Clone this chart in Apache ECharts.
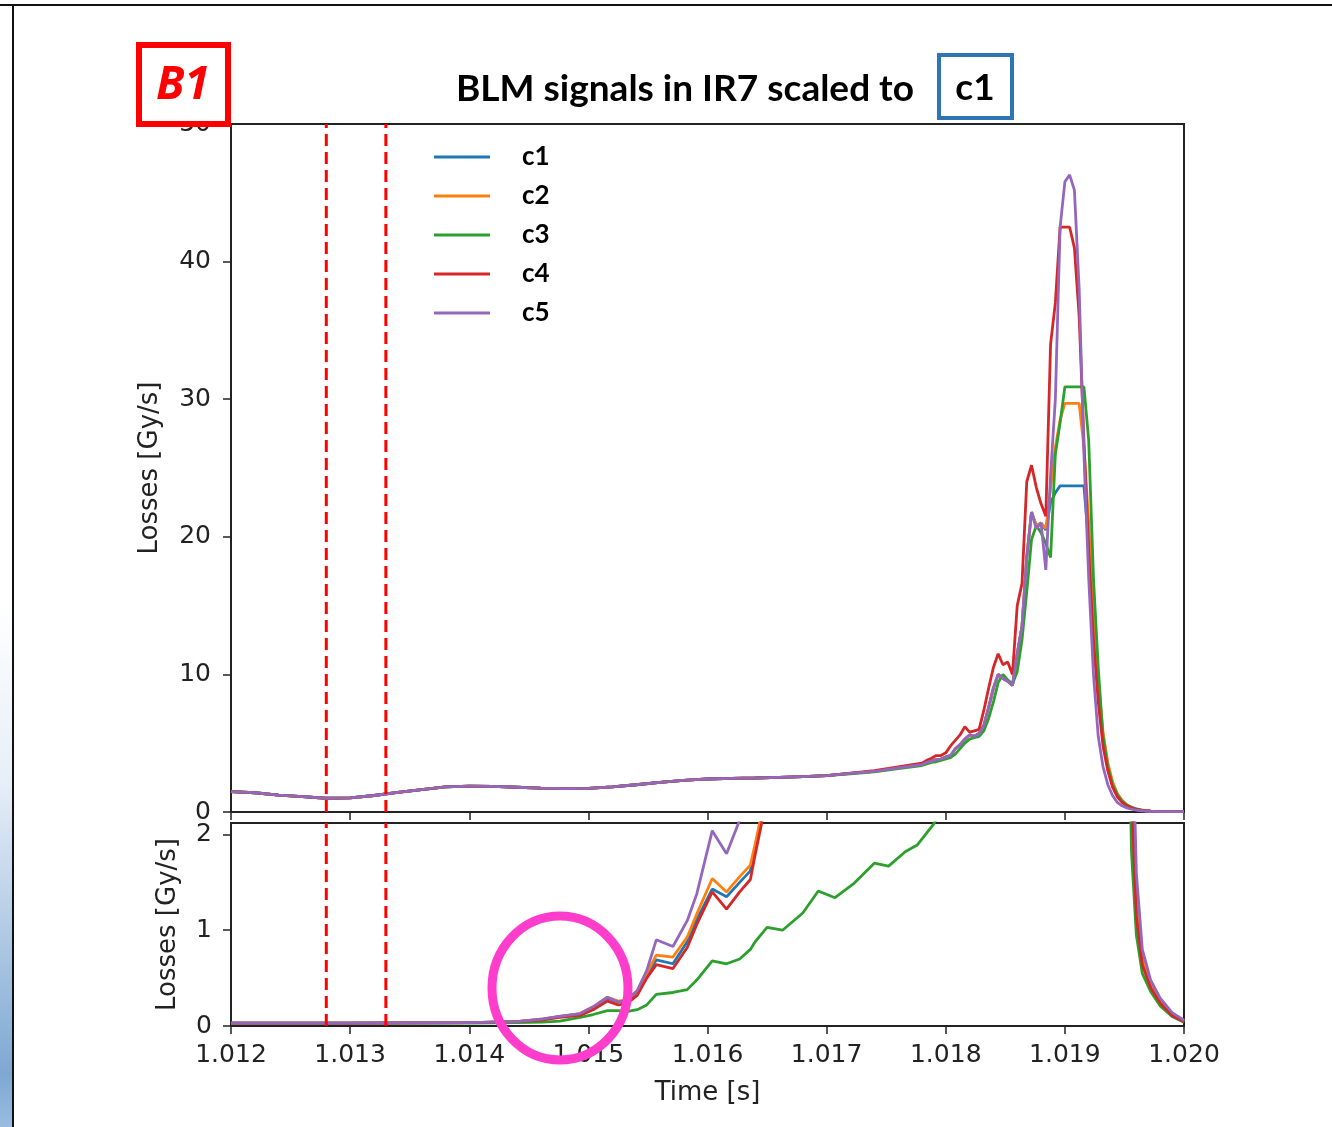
<!DOCTYPE html>
<html>
<head>
<meta charset="utf-8">
<script src="https://cdn.jsdelivr.net/npm/echarts@6/dist/echarts.min.js"></script>
<style>
html,body{margin:0;padding:0;background:#fff;}
#chart{width:1332px;height:1127px;}
</style>
</head>
<body>
<div id="chart"></div>
<script>
// ---------------- DATA ----------------
const titleText = 'BLM signals in IR7 scaled to';
const seriesNames = ['c1', 'c2', 'c3', 'c4', 'c5'];
const seriesColors = ['#1f77b4', '#ff7f0e', '#2ca02c', '#d62728', '#9467bd'];
const xTicks = [1.012, 1.013, 1.014, 1.015, 1.016, 1.017, 1.018, 1.019, 1.020];
const yTicksTop = [0, 10, 20, 30, 40, 50];
const yTicksBottom = [0, 1, 2];
const eventTimes = [1.0128, 1.0133];

// top panel time grid [s]
const tTop = [
  1.0120, 1.0122, 1.0124, 1.0126, 1.0128, 1.0130, 1.0132, 1.0134, 1.0136, 1.0138,
  1.0140, 1.0142, 1.0144, 1.0146, 1.0148, 1.0150, 1.0152, 1.0154, 1.0156, 1.0158,
  1.0160, 1.0162, 1.0164, 1.0166, 1.0168, 1.0170, 1.0172, 1.0174, 1.0176, 1.0178,
  1.01784, 1.01788, 1.01792, 1.01796, 1.01800, 1.01804, 1.01808, 1.01812, 1.01816, 1.01820,
  1.01824, 1.01828, 1.01832, 1.01836, 1.01840, 1.01844, 1.01848, 1.01852, 1.01856, 1.01860,
  1.01864, 1.01868, 1.01872, 1.01876, 1.01880, 1.01884, 1.01888, 1.01892, 1.01896, 1.01900,
  1.01904, 1.01908, 1.01912, 1.01916, 1.01920, 1.01924, 1.01928, 1.01932, 1.01936, 1.01940,
  1.01944, 1.01948, 1.01952, 1.01956, 1.01960, 1.01964, 1.01968, 1.01972, 1.01976, 1.01980,
  1.0199, 1.0200
];
const c1Top = [
  1.48, 1.40, 1.22, 1.12, 1.00, 1.03, 1.20, 1.42, 1.62, 1.82,
  1.88, 1.86, 1.80, 1.74, 1.70, 1.72, 1.82, 1.98, 2.15, 2.30,
  2.40, 2.44, 2.47, 2.52, 2.57, 2.64, 2.80, 2.95, 3.20, 3.45,
  3.6, 3.7, 3.8, 3.85, 4.0, 4.1, 4.6, 4.9, 5.3, 5.6,
  5.5, 5.7, 6.3, 7.6, 9.0, 10.0, 9.7, 9.5, 9.2, 11.5,
  13.5, 18.5, 21.8, 20.8, 21.0, 20.5, 22.5, 23.2, 23.7, 23.7,
  23.7, 23.7, 23.7, 23.7, 19.5, 13.5, 9.0, 5.5, 3.4, 2.1,
  1.3, 0.8, 0.5, 0.32, 0.2, 0.13, 0.09, 0.06, 0.05, 0.04,
  0.03, 0.02
];
const c2Top = [
  1.48, 1.40, 1.22, 1.12, 1.00, 1.03, 1.20, 1.42, 1.62, 1.82,
  1.88, 1.86, 1.80, 1.74, 1.70, 1.72, 1.82, 1.98, 2.15, 2.30,
  2.40, 2.44, 2.47, 2.52, 2.57, 2.64, 2.80, 2.95, 3.20, 3.45,
  3.6, 3.7, 3.8, 3.85, 4.0, 4.1, 4.6, 4.9, 5.3, 5.6,
  5.5, 5.7, 6.3, 7.6, 9.0, 10.0, 9.7, 9.5, 9.2, 11.5,
  13.5, 18.5, 21.8, 20.8, 21.0, 20.6, 23.5, 26.5, 28.5, 29.7,
  29.7, 29.7, 29.7, 26.5, 21.0, 14.5, 9.5, 5.8, 3.6, 2.2,
  1.35, 0.85, 0.52, 0.33, 0.21, 0.14, 0.09, 0.06, 0.05, 0.04,
  0.03, 0.02
];
const c3Top = [
  1.48, 1.40, 1.22, 1.12, 1.00, 1.03, 1.20, 1.42, 1.62, 1.82,
  1.88, 1.86, 1.80, 1.74, 1.70, 1.72, 1.82, 1.98, 2.15, 2.30,
  2.40, 2.44, 2.47, 2.52, 2.57, 2.64, 2.78, 2.92, 3.15, 3.38,
  3.5, 3.6, 3.65, 3.75, 3.85, 3.95, 4.2, 4.6, 5.0, 5.3,
  5.4, 5.5, 5.9, 6.8, 8.0, 9.4, 10.0, 9.6, 9.3, 10.2,
  12.5, 16.0, 19.8, 20.8, 20.3, 19.5, 18.5, 26.0, 28.3, 30.9,
  30.9, 30.9, 30.9, 30.9, 27.0, 17.0, 10.5, 5.5, 3.3, 2.0,
  1.25, 0.8, 0.5, 0.34, 0.22, 0.15, 0.1, 0.07, 0.05, 0.04,
  0.03, 0.02
];
const c4Top = [
  1.48, 1.40, 1.22, 1.12, 1.00, 1.03, 1.20, 1.42, 1.62, 1.82,
  1.88, 1.86, 1.80, 1.74, 1.70, 1.72, 1.82, 1.98, 2.15, 2.30,
  2.40, 2.44, 2.47, 2.52, 2.57, 2.64, 2.82, 3.00, 3.28, 3.55,
  3.75, 3.9, 4.1, 4.1, 4.3, 4.8, 5.2, 5.6, 6.2, 5.8,
  5.9, 6.0, 7.4, 9.0, 10.5, 11.5, 10.7, 10.9, 10.0, 15.0,
  16.6, 24.0, 25.2, 23.6, 22.4, 21.5, 34.0, 37.0, 42.5, 42.5,
  42.5, 41.0, 36.0, 27.0, 19.0, 12.5, 8.0, 4.8, 3.0, 1.8,
  1.1, 0.7, 0.45, 0.3, 0.19, 0.13, 0.09, 0.06, 0.05, 0.04,
  0.03, 0.02
];
const c5Top = [
  1.48, 1.40, 1.22, 1.12, 1.00, 1.03, 1.20, 1.42, 1.62, 1.82,
  1.88, 1.86, 1.80, 1.74, 1.70, 1.72, 1.82, 1.98, 2.15, 2.30,
  2.40, 2.44, 2.47, 2.52, 2.57, 2.64, 2.80, 2.95, 3.20, 3.45,
  3.6, 3.7, 3.8, 3.85, 4.0, 4.1, 4.6, 4.9, 5.3, 5.6,
  5.5, 5.7, 6.3, 7.6, 9.0, 10.0, 9.7, 9.5, 9.2, 11.5,
  13.5, 18.5, 21.8, 20.6, 21.0, 17.6, 24.5, 30.0, 42.5, 45.8,
  46.3, 45.2, 38.0, 26.0, 17.0, 10.0, 5.5, 3.3, 2.0, 1.2,
  0.7, 0.45, 0.3, 0.2, 0.13, 0.09, 0.06, 0.05, 0.04, 0.03,
  0.02, 0.02
];

// bottom panel time grid [s]
const tBottom = [
  1.0120, 1.0130, 1.0140, 1.0144, 1.01462, 1.01476, 1.01493, 1.01504, 1.01516, 1.01525,
  1.01532, 1.01541, 1.01549, 1.01557, 1.01571, 1.01583, 1.01591, 1.01604, 1.01616, 1.01627,
  1.01636, 1.0164, 1.01646, 1.0165, 1.01663, 1.0168, 1.01693, 1.01707, 1.01723, 1.0174,
  1.01752, 1.01766, 1.01776, 1.0179, 1.0181, 1.0185, 1.0190, 1.0194, 1.01952, 1.01956,
  1.0196, 1.01965, 1.01972, 1.0198, 1.0199, 1.0200
];
const c1Bottom = [
  0.03, 0.03, 0.035, 0.045, 0.07, 0.10, 0.12, 0.19, 0.29, 0.25,
  0.26, 0.35, 0.53, 0.69, 0.65, 0.88, 1.11, 1.43, 1.35, 1.50,
  1.62, 1.86, 2.2, 2.4, 2.6, 2.8, 3.0, 3.1, 3.3, 3.6,
  3.8, 4.1, 4.3, 4.6, 5.4, 9.5, 23.7, 14.0, 6.5, 2.8,
  1.3, 0.7, 0.42, 0.25, 0.12, 0.05
];
const c2Bottom = [
  0.03, 0.03, 0.035, 0.045, 0.075, 0.10, 0.13, 0.20, 0.30, 0.26,
  0.27, 0.36, 0.55, 0.74, 0.72, 0.93, 1.17, 1.54, 1.40, 1.56,
  1.68, 1.90, 2.25, 2.45, 2.65, 2.85, 3.05, 3.15, 3.4, 3.7,
  3.9, 4.2, 4.4, 4.7, 5.6, 9.8, 29.7, 15.0, 7.0, 3.0,
  1.35, 0.72, 0.43, 0.25, 0.12, 0.05
];
const c3Bottom = [
  0.03, 0.03, 0.03, 0.035, 0.04, 0.05, 0.09, 0.12, 0.16, 0.16,
  0.15, 0.17, 0.22, 0.33, 0.35, 0.38, 0.48, 0.68, 0.65, 0.70,
  0.80, 0.88, 0.97, 1.03, 1.00, 1.18, 1.41, 1.34, 1.49, 1.70,
  1.67, 1.82, 1.89, 2.11, 2.6, 6.0, 29.0, 18.0, 4.0, 1.8,
  0.95, 0.55, 0.36, 0.21, 0.10, 0.04
];
const c4Bottom = [
  0.03, 0.03, 0.035, 0.045, 0.065, 0.09, 0.11, 0.17, 0.26, 0.22,
  0.23, 0.32, 0.50, 0.64, 0.60, 0.82, 1.06, 1.40, 1.22, 1.40,
  1.53, 1.79, 2.15, 2.35, 2.55, 2.8, 3.0, 3.1, 3.35, 3.7,
  3.95, 4.3, 4.6, 5.0, 6.2, 11.5, 42.5, 16.0, 6.0, 2.4,
  1.15, 0.64, 0.40, 0.24, 0.11, 0.045
];
const c5Bottom = [
  0.03, 0.03, 0.035, 0.045, 0.075, 0.10, 0.13, 0.20, 0.30, 0.25,
  0.27, 0.37, 0.58, 0.90, 0.83, 1.10, 1.38, 2.04, 1.80, 2.15,
  2.6, 2.9, 3.2, 3.4, 3.6, 3.8, 4.0, 4.1, 4.3, 4.6,
  4.8, 5.1, 5.3, 5.6, 6.5, 10.5, 45.0, 10.0, 8.5, 3.6,
  1.6, 0.8, 0.48, 0.29, 0.14, 0.06
];

const topValues = [c1Top, c2Top, c3Top, c4Top, c5Top];
const bottomValues = [c1Bottom, c2Bottom, c3Bottom, c4Bottom, c5Bottom];

// ---------------- CHART ----------------
const chart = echarts.init(document.getElementById('chart'), null, {renderer: 'canvas'});

const tickFont = {fontFamily: 'DejaVu Sans', fontSize: 25, color: '#222'};
const nameFont = {fontFamily: 'DejaVu Sans', fontSize: 26, color: '#222'};
const axisLine = {show: true, lineStyle: {color: '#222', width: 2}};
const axisTick = {show: true, length: 8, lineStyle: {color: '#222', width: 1.5}};

const topMax = 50, bottomMax = 2.12;

const series = [];
seriesNames.forEach((name, k) => {
  series.push({
    name: name, type: 'line', xAxisIndex: 0, yAxisIndex: 0,
    data: tTop.map((t, i) => [t, topValues[k][i]]),
    showSymbol: false, symbol: 'none',
    lineStyle: {width: 2.8, color: seriesColors[k]},
    itemStyle: {color: seriesColors[k]},
    animation: false
  });
});
seriesNames.forEach((name, k) => {
  series.push({
    name: name, type: 'line', xAxisIndex: 1, yAxisIndex: 1,
    data: tBottom.map((t, i) => [t, bottomValues[k][i]]),
    showSymbol: false, symbol: 'none',
    lineStyle: {width: 2.8, color: seriesColors[k]},
    itemStyle: {color: seriesColors[k]},
    animation: false
  });
});
// dashed event lines in both panels
eventTimes.forEach(t => {
  [[0, topMax], [1, bottomMax]].forEach(([g, ymax]) => {
    series.push({
      name: 'event', type: 'line', xAxisIndex: g, yAxisIndex: g,
      data: [[t, 0], [t, ymax]],
      showSymbol: false, symbol: 'none', silent: true, z: 3,
      lineStyle: {width: 3, color: '#ff0000', type: [12, 6]},
      animation: false
    });
  });
});

const option = {
  backgroundColor: '#fff',
  animation: false,
  grid: [
    {left: 231, top: 124, width: 953, height: 688, show: true, borderColor: '#222', borderWidth: 2, backgroundColor: 'transparent'},
    {left: 231, top: 823, width: 953, height: 203, show: true, borderColor: '#222', borderWidth: 2, backgroundColor: 'transparent'}
  ],
  xAxis: [
    {type: 'value', gridIndex: 0, min: 1.012, max: 1.020, interval: 0.001,
     axisLine: axisLine, axisTick: Object.assign({customValues: xTicks}, axisTick),
     axisLabel: {show: false}, splitLine: {show: false}},
    {type: 'value', gridIndex: 1, min: 1.012, max: 1.020, interval: 0.001,
     axisLine: axisLine, axisTick: Object.assign({customValues: xTicks}, axisTick),
     axisLabel: Object.assign({customValues: xTicks, margin: 17, formatter: v => v.toFixed(3)}, tickFont),
     splitLine: {show: false},
     name: 'Time [s]', nameLocation: 'middle', nameGap: 54, nameTextStyle: nameFont}
  ],
  yAxis: [
    {type: 'value', gridIndex: 0, min: 0, max: topMax, interval: 10,
     axisLine: axisLine, axisTick: Object.assign({customValues: yTicksTop}, axisTick),
     axisLabel: Object.assign({customValues: yTicksTop, margin: 20}, tickFont),
     splitLine: {show: false},
     name: 'Losses [Gy/s]', nameLocation: 'middle', nameGap: 68, nameTextStyle: nameFont},
    {type: 'value', gridIndex: 1, min: 0, max: bottomMax,
     axisLine: axisLine, axisTick: Object.assign({customValues: yTicksBottom}, axisTick),
     axisLabel: Object.assign({customValues: yTicksBottom, margin: 19}, tickFont),
     splitLine: {show: false},
     name: 'Losses [Gy/s]', nameLocation: 'middle', nameGap: 50, nameTextStyle: nameFont}
  ],
  legend: {
    data: seriesNames.map(n => ({name: n, icon: 'rect'})),
    orient: 'vertical', left: 434, top: 144, padding: 0,
    itemWidth: 56, itemHeight: 3, itemGap: 13,
    textStyle: {fontFamily: 'Lato', fontWeight: 'bold', fontSize: 26, color: '#000', lineHeight: 26, padding: [0, 0, 0, 27]}
  },
  graphic: [
    // slide frame
    {type: 'rect', z: 100, shape: {x: 0, y: 4, width: 1332, height: 2}, style: {fill: '#111'}},
    {type: 'rect', z: 100, shape: {x: 12, y: 4, width: 2, height: 1123}, style: {fill: '#111'}},
    {type: 'rect', z: 99, shape: {x: 0, y: 600, width: 12, height: 527},
     style: {fill: {type: 'linear', x: 0, y: 0, x2: 0, y2: 1, colorStops: [
       {offset: 0, color: '#ffffff'}, {offset: 0.35, color: '#e6eef7'},
       {offset: 0.9, color: '#7ea8d2'}, {offset: 1, color: '#9bbce0'}]}}},
    // B1 box
    {type: 'rect', z: 100, shape: {x: 139, y: 45, width: 89, height: 79},
     style: {fill: '#fff', stroke: '#ff0000', lineWidth: 6}},
    {type: 'text', z: 101, x: 183, y: 86,
     style: {text: 'B1', fill: '#ff0000', font: 'italic bold 46px "Open Sans"', textAlign: 'center', textVerticalAlign: 'middle'}},
    // title
    {type: 'text', z: 100, x: 456, y: 89,
     style: {text: titleText, fill: '#000', font: 'bold 37px Lato', textAlign: 'left', textVerticalAlign: 'middle'}},
    {type: 'rect', z: 100, shape: {x: 939, y: 55, width: 73, height: 63},
     style: {fill: 'none', stroke: '#2e75b6', lineWidth: 4}},
    {type: 'text', z: 101, x: 975, y: 88,
     style: {text: 'c1', fill: '#000', font: 'bold 37px Lato', textAlign: 'center', textVerticalAlign: 'middle'}},
    // magenta annotation circle
    {type: 'ellipse', z: 102, shape: {cx: 560, cy: 988, rx: 68, ry: 72},
     style: {fill: 'none', stroke: '#ff3dcc', lineWidth: 9}}
  ],
  series: series
};
chart.setOption(option);
</script>
</body>
</html>
